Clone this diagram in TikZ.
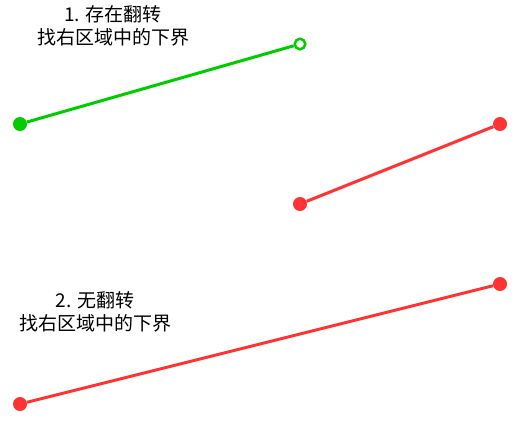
\documentclass[tikz,border=0pt]{standalone}
\usepackage{fontspec}
\setmainfont{Noto Sans CJK SC}
\usetikzlibrary{positioning}
\definecolor{lgreen}{RGB}{0,204,0}
\definecolor{lred}{RGB}{255,51,51}
\tikzset{
	pt/.style={circle, fill=#1, inner sep=0pt, minimum size=14pt},
	hole/.style={circle, draw=#1, fill=white, line width=2.5pt, inner sep=0pt, minimum size=10.5pt},
	seg/.style={#1, line width=3pt},
	note/.style={align=center, font=\fontsize{19}{23}\selectfont}
}

\begin{document}
\begin{tikzpicture}[x=1pt, y=-1pt]
			\useasboundingbox (0,0) rectangle (518,421);
			% 存在翻转
			\node[note] (t1) at (113,26) {1. 存在翻转\\找右区域中的下界};
			\node[pt=lgreen] (a1) at (20,124) {};
			\node[hole=lgreen] (a2) at (300,44) {};
			\draw[seg=lgreen] (a1) -- (a2);
			% 右边区域
			\node[pt=lred] (b1) at (300,204) {};
			\node[pt=lred] (b2) at (500,124) {};
			\draw[seg=lred] (b1) -- (b2);
			% 无翻转
			\node[note] (t2) at (95,312) {2. 无翻转\\找右区域中的下界};
			\node[pt=lred] (c1) at (20,404) {};
			\node[pt=lred] (c2) at (500,284) {};
			\draw[seg=lred] (c1) -- (c2);
		\end{tikzpicture}
\end{document}
